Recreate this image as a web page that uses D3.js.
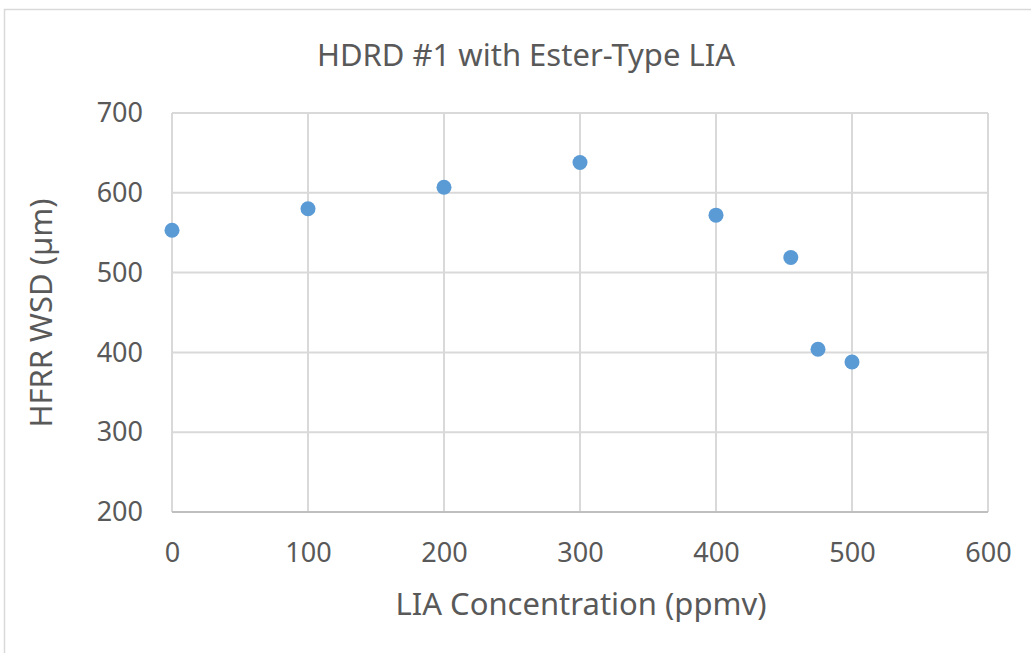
<!DOCTYPE html>
<html>
<head>
<meta charset="utf-8">
<script src="https://cdn.jsdelivr.net/npm/d3@7"></script>
<style>
  body { margin: 0; background: #fff; }
  text { font-family: "Noto Sans", sans-serif; fill: #595959; }
</style>
</head>
<body>
<div class="item"></div>
<script>
var width = 1031;   // canvas width
var height = 653;   // canvas height

// data
var concentration = [0, 100, 200, 300, 400, 455, 475, 500];   // ppmv
var wsd = [553, 580, 607, 638, 572, 519, 404, 388];           // µm
var xTicks = [0, 100, 200, 300, 400, 500, 600];
var yTicks = [200, 300, 400, 500, 600, 700];

var margin = {left: 172, right: 43, top: 113, bottom: 141};

var svg = d3.select(".item")
    .append("svg")
    .attr("width", width)
    .attr("height", height);

// outer chart frame
svg.append("rect")
    .attr("x", 4.5).attr("y", 9.5)
    .attr("width", width + 10).attr("height", height + 10)
    .attr("fill", "none")
    .attr("stroke", "#d9d9d9")
    .attr("stroke-width", 1.5);

var x = d3.scaleLinear().domain([0, 600]).range([margin.left, width - margin.right]);
var y = d3.scaleLinear().domain([200, 700]).range([height - margin.bottom, margin.top]);

// gridlines
svg.append("g").selectAll("line").data(xTicks).enter().append("line")
    .attr("x1", function(d){ return x(d); }).attr("x2", function(d){ return x(d); })
    .attr("y1", y(200)).attr("y2", y(700))
    .attr("stroke", "#d9d9d9").attr("stroke-width", 2);

svg.append("g").selectAll("line").data(yTicks).enter().append("line")
    .attr("x1", x(0)).attr("x2", x(600))
    .attr("y1", function(d){ return y(d); }).attr("y2", function(d){ return y(d); })
    .attr("stroke", function(d){ return d === 200 ? "#bfbfbf" : "#d9d9d9"; })
    .attr("stroke-width", 2);

// axes with labels only
var xAxis = svg.append("g")
    .attr("transform", "translate(0," + y(200) + ")")
    .call(d3.axisBottom(x).tickValues(xTicks).tickSize(0).tickPadding(31));
xAxis.select(".domain").remove();
xAxis.selectAll("text").style("font-size", "27px").attr("fill", "#595959");

var yAxis = svg.append("g")
    .attr("transform", "translate(" + x(0) + ",0)")
    .call(d3.axisLeft(y).tickValues(yTicks).tickSize(0).tickPadding(29));
yAxis.select(".domain").remove();
yAxis.selectAll("text").style("font-size", "27px").attr("fill", "#595959");

// points
svg.append("g").selectAll("circle").data(concentration).enter().append("circle")
    .attr("cx", function(d){ return x(d); })
    .attr("cy", function(d, i){ return y(wsd[i]); })
    .attr("r", 7.5)
    .style("fill", "#5b9bd5");

// titles
svg.append("text")
    .attr("x", 526).attr("y", 66)
    .attr("text-anchor", "middle")
    .style("font-size", "31px")
    .text("HDRD #1 with Ester-Type LIA");

svg.append("text")
    .attr("x", 581).attr("y", 615)
    .attr("text-anchor", "middle")
    .style("font-size", "31px")
    .text("LIA Concentration (ppmv)");

svg.append("text")
    .attr("transform", "translate(52,313) rotate(-90)")
    .attr("text-anchor", "middle")
    .style("font-size", "31px")
    .text("HFRR WSD (µm)");
</script>
</body>
</html>
